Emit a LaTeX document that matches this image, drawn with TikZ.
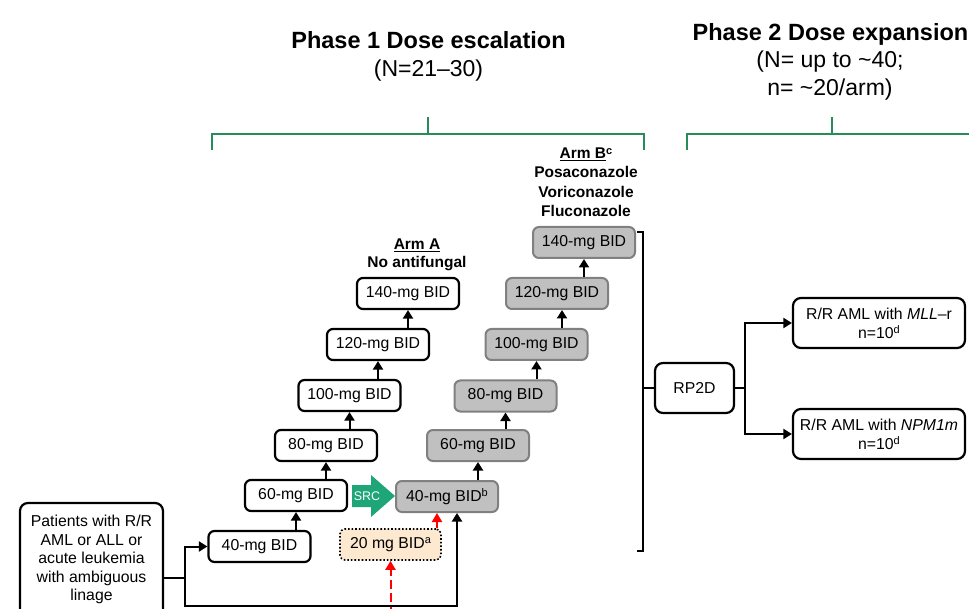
\documentclass[tikz,border=0pt]{standalone}
\usepackage{fontspec}
\setmainfont{Liberation Sans}
\usetikzlibrary{arrows.meta}
\definecolor{brgreen}{RGB}{40,140,90}
\definecolor{srcgreen}{RGB}{30,165,120}
\definecolor{boxgray}{RGB}{192,192,192}
\definecolor{bordergray}{RGB}{128,128,128}
\definecolor{peach}{RGB}{253,233,208}
\newcommand{\supx}[1]{\raisebox{0.55ex}{\fontsize{11}{11}\selectfont #1}}
\begin{document}
\begin{tikzpicture}[x=1pt,y=-1pt,
  font=\fontsize{15.8}{19}\selectfont,
  wbox/.style={draw=black, line width=2.2pt, rounded corners=6pt, fill=white, minimum width=102pt, minimum height=31pt, inner sep=0pt},
  gbox/.style={draw=bordergray, line width=2pt, rounded corners=6pt, fill=boxgray, minimum width=102pt, minimum height=31pt, inner sep=0pt},
  bigbox/.style={draw=black, line width=2.2pt, rounded corners=8pt, fill=white, inner sep=0pt, align=center},
  conn/.style={line width=2pt, -{Triangle[width=10pt,length=8.5pt]}},
  redarr/.style={draw=red, line width=2pt, dash pattern=on 9pt off 4pt, -{Triangle[width=10pt,length=9pt]}},
  grbr/.style={draw=brgreen, line width=2pt},
  bfl/.style={anchor=base, font=\bfseries\fontsize{15.5}{19}\selectfont},
  ttl/.style={anchor=base, font=\bfseries\fontsize{23.5}{28}\selectfont},
  sub/.style={anchor=base, font=\fontsize{23}{28}\selectfont},
  txt/.style={anchor=base}
]
\fill[white] (0,0) rectangle (969,609);
\useasboundingbox (0,0) rectangle (969,609);

% titles
\node[ttl] (t1) at (428.5,49) {Phase 1 Dose escalation};
\node[sub] (t1b) at (428.5,77) {(N=21\textendash 30)};
\node[ttl] (t2) at (830.5,41) {Phase 2 Dose expansion};
\node[sub] (t2b) at (830,68) {(N= up to \textasciitilde 40;};
\node[sub] (t2c) at (830,96) {n= \textasciitilde 20/arm)};

% green brackets
\draw[grbr] (212,150) -- (212,134) -- (644,134) -- (644,150);
\draw[grbr] (428,117) -- (428,134);
\draw[grbr] (687,150) -- (687,134) -- (975,134);
\draw[grbr] (832,117) -- (832,134);

% arm labels
\node[bfl] (armb1) at (586,159) {\underline{Arm B}\supx{c}};
\node[bfl] (armb2) at (586,178) {Posaconazole};
\node[bfl] (armb3) at (586,197.5) {Voriconazole};
\node[bfl] (armb4) at (586,217) {Fluconazole};
\node[bfl] (arma1) at (417,250) {\underline{Arm A}};
\node[bfl] (arma2) at (417,268) {No antifungal};

% Arm A boxes
\node[wbox] (A140) at (408,293.5) {140-mg BID};
\node[wbox] (A120) at (378,344.5) {120-mg BID};
\node[wbox] (A100) at (349.5,395.5) {100-mg BID};
\node[wbox] (A80) at (326,445.5) {80-mg BID};
\node[wbox] (A60) at (296,495.5) {60-mg BID};
\node[wbox] (A40) at (259.5,546.5) {40-mg BID};

\draw[conn] (A40.north -| A60.south) -- (A60.south);
\draw[conn] (A60.north -| A80.south) -- (A80.south);
\draw[conn] (A80.north -| A100.south) -- (A100.south);
\draw[conn] (A100.north -| A120.south) -- (A120.south);
\draw[conn] (A120.north -| A140.south) -- (A140.south);

% Arm B boxes
\node[gbox] (B140) at (584,242.5) {140-mg BID};
\node[gbox] (B120) at (557,293.5) {120-mg BID};
\node[gbox] (B100) at (536.5,344.5) {100-mg BID};
\node[gbox] (B80) at (505.5,396) {80-mg BID};
\node[gbox] (B60) at (478,445.5) {60-mg BID};
\node[gbox] (B40) at (447,496.5) {40-mg BID\supx{b}};

\draw[conn] (B40.north -| B60.south) -- (B60.south);
\draw[conn] (B60.north -| B80.south) -- (B80.south);
\draw[conn] (B80.north -| B100.south) -- (B100.south);
\coordinate (b120x) at (562,0);
\draw[conn] (B100.north -| b120x) -- (B120.south -| b120x);
\draw[conn] (B120.north -| B140.south) -- (B140.south);

% SRC arrow
\fill[srcgreen] (352,485) -- (371,485) -- (371,475) -- (395,496) -- (371,517) -- (371,507) -- (352,507) -- cycle;
\node[text=white, font=\fontsize{12.5}{14}\selectfont] (src) at (367,496) {SRC};

% 20 mg box
\node[draw=black, line width=1.6pt, dotted, rounded corners=5pt, fill=peach, minimum width=101pt, minimum height=31pt, inner sep=0pt] (d20) at (390.5,544.5) {20 mg BID\supx{a}};
\coordinate (redin) at (390.5,615);
\draw[redarr] (redin) -- (d20.south);
\coordinate (rx) at (437,0);
\draw[redarr, dash pattern=] (d20.north -| rx) -- (B40.south -| rx);

% patients box
\node[bigbox, minimum width=143pt, minimum height=114pt] (pat) at (91.5,560) {};
\node[txt] (p1) at (91.5,526) {Patients with R/R};
\node[txt] (p2) at (91.5,545) {AML or ALL or};
\node[txt] (p3) at (91.5,563.5) {acute leukemia};
\node[txt] (p4) at (91.5,582) {with ambiguous};
\node[txt] (p5) at (91.5,600.5) {linage};

\coordinate (fork) at (185,578);
\coordinate (botc) at (457,606);
\draw[line width=2pt] (pat.east |- fork) -- (fork);
\draw[conn] (fork) |- (A40.west);
\draw[conn] (fork) |- (botc) -- (botc |- B40.south);

% black bracket
\coordinate (bt) at (643,232);
\coordinate (bb) at (643,551);
\draw[line width=1.5pt] (637,232) -- (bt) -- (bb) -- (637,551);

% RP2D and phase 2 boxes
\node[bigbox, minimum width=79pt, minimum height=50pt] (rp) at (694.5,388) {RP2D};
\draw[line width=2pt] (rp.west -| bt) -- (rp.west);
\node[bigbox, minimum width=172pt, minimum height=50pt] (mll) at (879,323) {R/R AML with \textit{MLL}\textendash r\\n=10\supx{d}};
\node[bigbox, minimum width=172pt, minimum height=50pt] (npm) at (879,434) {R/R AML with \textit{NPM1m}\\n=10\supx{d}};
\coordinate (f2) at (745,388);
\draw[line width=2pt] (rp.east) -- (f2);
\draw[conn] (f2) |- (mll.west);
\draw[conn] (f2) |- (npm.west);
\end{tikzpicture}
\end{document}
